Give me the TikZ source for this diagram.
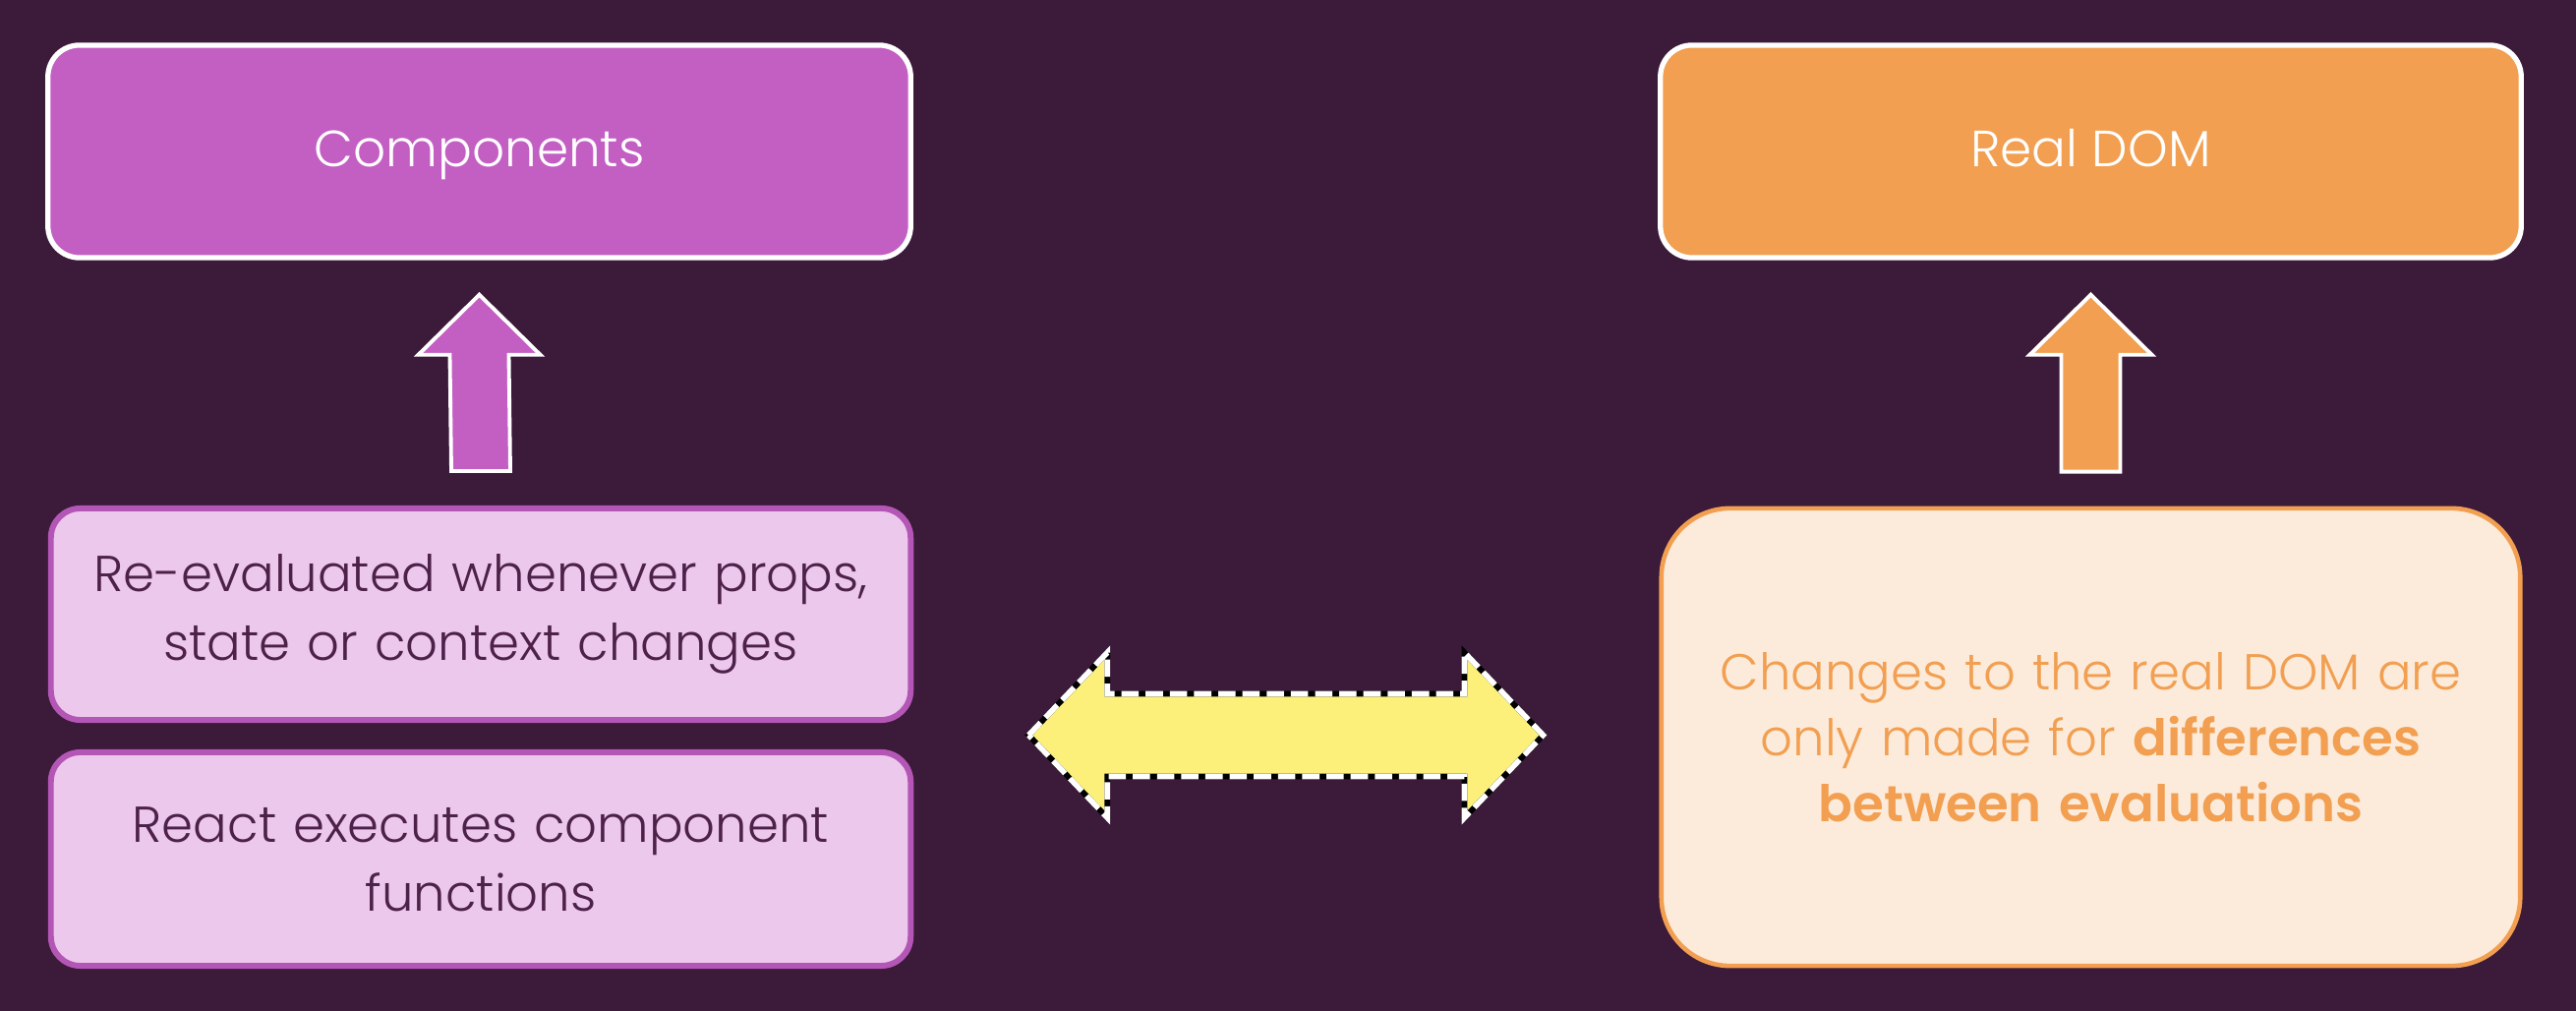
\documentclass[tikz,border=0pt]{standalone}
\usepackage{fontspec}
\setmainfont{Poppins}[UprightFont={* Light},BoldFont={* SemiBold}]
\usepackage{tikz}
\usetikzlibrary{calc,positioning}
\definecolor{bgc}{RGB}{59,26,58}
\definecolor{compc}{RGB}{195,95,195}
\definecolor{compsoft}{RGB}{236,200,236}
\definecolor{compline}{RGB}{180,86,182}
\definecolor{compink}{RGB}{77,33,73}
\definecolor{domc}{RGB}{242,159,81}
\definecolor{domsoft}{RGB}{252,235,219}
\definecolor{swapc}{RGB}{253,240,122}
\tikzset{
  headbox/.style={rectangle,rounded corners=0.32cm,draw=white,line width=1.5pt,
    minimum width=8.77cm,minimum height=2.16cm,text=white,text height=1.0em,text depth=0.1em,
    font=\fontsize{14.7}{19}\selectfont},
  compbox/.style={rectangle,rounded corners=0.3cm,draw=compline,fill=compsoft,line width=1.7pt,
    minimum width=8.74cm,text width=8.4cm,align=center,text=compink,font=\fontsize{14.6}{20}\selectfont},
  dombox/.style={rectangle,rounded corners=0.7cm,draw=domc,fill=domsoft,line width=1.3pt,
    minimum width=8.73cm,text width=8.4cm,align=center,text=domc,font=\fontsize{14.6}{19}\selectfont},
  blockarr/.style={draw=white,line width=1.1pt,line join=miter},
  swaparr/.style={fill=swapc,draw=black,line width=1.6pt,line join=miter,
    postaction={draw=white,line width=1.6pt,dash pattern=on 5pt off 2pt}},
}
% upward block arrow from #1 to #2, filled with #3
\newcommand{\blockup}[3]{%
  \coordinate (b) at ($(#1.north)+(0,-35)$);
  \coordinate (t) at ($(#2.south)+(0,35)$);
  \draw[blockarr,fill=#3] ($(b)+(-30,0)$) -- ($(t)+(-30,61)$) -- ($(t)+(-62,61)$) -- (t)
    -- ($(t)+(62,61)$) -- ($(t)+(30,61)$) -- ($(b)+(30,0)$) -- cycle;}

\begin{document}
\begin{tikzpicture}[x=0.01cm,y=-0.01cm]
\fill[bgc] (0,0) rectangle (2620,1028);
\useasboundingbox (0,0) rectangle (2620,1028);
% left column
\node[headbox,fill=compc] (comp) at (487.5,154) {Components};
\node[compbox,minimum height=2.15cm] (reval) at (489,624.5)
  {Re-evaluated whenever props,\\state or context changes};
\node[compbox,minimum height=2.17cm] (exec) at (489,873.5)
  {React executes component\\functions};
% right column
\node[headbox,fill=domc,minimum width=8.75cm] (dom) at (2126.5,154) {Real DOM};
\node[dombox,minimum height=4.65cm] (diff) at (2126.5,749.5)
  {Changes to the real DOM are\\only made for \textbf{differences}\\\textbf{between evaluations}};
% arrows
\blockup{reval}{comp}{compc}
\blockup{diff}{dom}{domc}
\coordinate (l) at ($(reval.east |- diff.west)+(117,-2)$);
\coordinate (r) at ($(diff.west)+(-118,-2)$);
\draw[swaparr] (l) -- ($(l)+(80,-84)$) -- ($(l)+(80,-42)$) -- ($(r)+(-80,-42)$)
  -- ($(r)+(-80,-84)$) -- (r) -- ($(r)+(-80,84)$) -- ($(r)+(-80,42)$)
  -- ($(l)+(80,42)$) -- ($(l)+(80,84)$) -- cycle;
\end{tikzpicture}
\end{document}
